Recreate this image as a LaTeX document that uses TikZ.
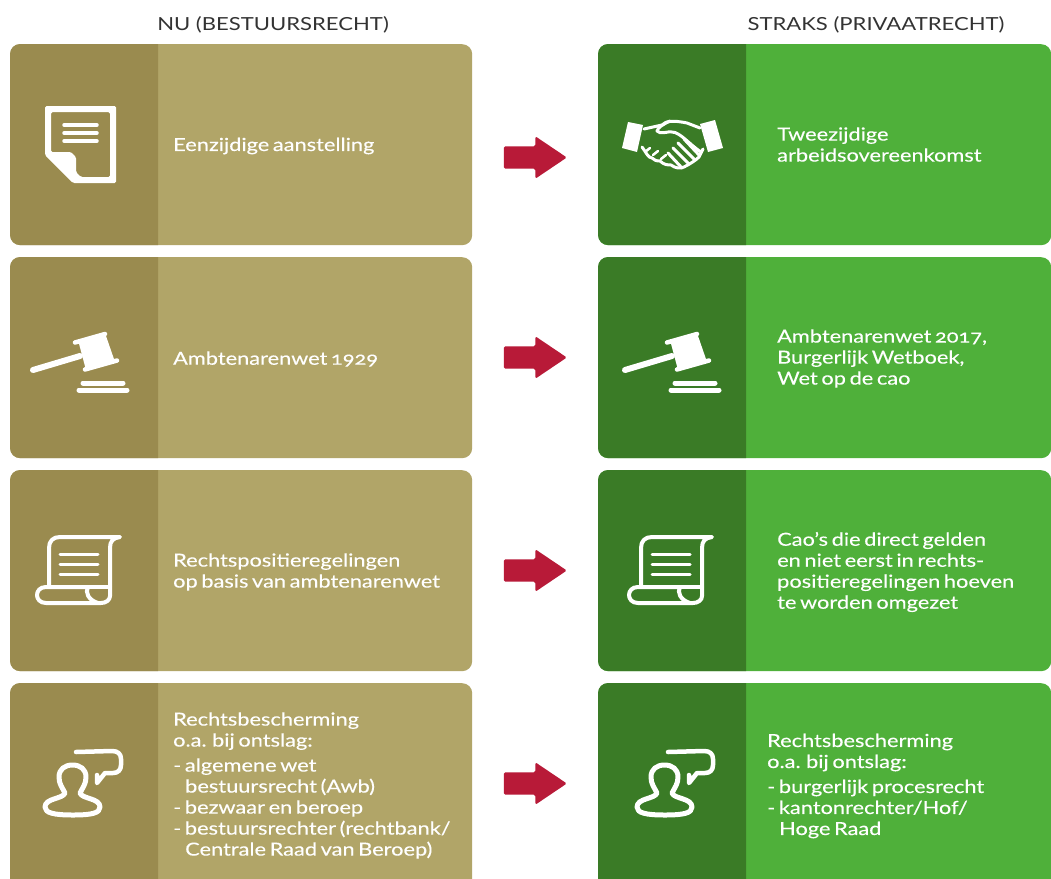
\documentclass[tikz,border=0pt]{standalone}
\usepackage{fontspec}
\setmainfont[FakeStretch=1.21,FakeBold=0.2,WordSpace=0.65,Numbers=OldStyle]{Lato}
\newfontfamily\hdrfont[FakeStretch=1.225]{Lato}
\usetikzlibrary{shapes.arrows}
\definecolor{oliveD}{HTML}{9A8B4F}
\definecolor{oliveL}{HTML}{B1A568}
\definecolor{greenD}{HTML}{3A7B26}
\definecolor{greenL}{HTML}{4FB03A}
\definecolor{redA}{HTML}{B81A38}
\definecolor{headC}{HTML}{333333}
\tikzset{
  panel/.style={rectangle,rounded corners=10pt,anchor=north west,minimum width=#1,inner sep=0pt,draw=none},
  lbl/.style={text=white,anchor=west,align=left,inner sep=0pt,font=\fontsize{18}{21}\selectfont},
  hdr/.style={text=headC,inner sep=0pt,font=\hdrfont\fontsize{18}{21}\selectfont},
  blockarrow/.style={single arrow,fill=redA,draw=none,inner sep=0pt,text height=22pt,text depth=0pt,minimum height=63pt,minimum width=42pt,single arrow head extend=10pt,single arrow tip angle=68,rounded corners=1.5pt,anchor=center},
  ico/.style={draw=white,line width=#1,line cap=round,line join=round},
  ico/.default=4pt,
  gavelicon/.pic={
    \fill[white,rounded corners=1pt] (78,340)--(105,333)--(115,362)--(86,370)--cycle;
    \draw[ico=4.5pt] (75,342.5)--(105,334);
    \draw[ico=4.5pt] (85,369.5)--(117,360.5);
    \draw[ico=6pt] (33,370)--(80,356);
    \draw[ico=5pt] (83,383)--(123,383);
    \draw[ico=5pt] (79,390)--(127,390);
  },
  scrollicon/.pic={
    \draw[ico] (49,587)--(49,548) .. controls (49,541) and (53,537) .. (60,537)--(120,537) .. controls (113,538) and (110,541) .. (110,548)--(110,596) .. controls (110,600) and (106,603) .. (101,603)--(46,603) .. controls (34,603) and (34,587) .. (46,587)--(88,587) .. controls (85,592) and (88,600) .. (98,603);
    \draw[ico] (88,587)--(110,587);
    \draw[ico=3pt] (60,554)--(98,554) (60,564)--(98,564) (60,574)--(98,574);
  },
  personicon/.pic={
    \draw[ico=5pt] (65,793) .. controls (62,787) and (59,784) .. (59,777) .. controls (59,769) and (65,765) .. (72.5,765) .. controls (80,765) and (86,769) .. (86,777) .. controls (86,784) and (83,787) .. (80,793) .. controls (82,799) and (100,798) .. (100,807) .. controls (100,813) and (92,815) .. (73,815) .. controls (54,815) and (45,813) .. (45,807) .. controls (45,798) and (63,799) .. (65,793) -- cycle;
    \draw[ico=4.5pt] (76,752)--(112,751) .. controls (118,751) and (121,754) .. (121,759)--(121,765) .. controls (121,770) and (118,773) .. (113,773)--(105,773)--(97,783)--(97,775);
  }
}
\begin{document}
\begin{tikzpicture}[x=1pt,y=-1pt]
\clip (0,0) rectangle (1051,878);
\fill[white] (0,0) rectangle (1051,878);
\node[hdr] (hl) at (273,25) {NU (BESTUURSRECHT)};
\node[hdr] (hr) at (876,25) {STRAKS (PRIVAATRECHT)};
% left panels
\node[panel=462pt,minimum height=201pt,fill=oliveL] (l1) at (10,44) {};
\node[panel=462pt,minimum height=201pt,fill=oliveL] (l2) at (10,257) {};
\node[panel=462pt,minimum height=201pt,fill=oliveL] (l3) at (10,470) {};
\node[panel=462pt,minimum height=205pt,fill=oliveL] (l4) at (10,683) {};
% right panels
\node[panel=453pt,minimum height=201pt,fill=greenL] (r1) at (598,44) {};
\node[panel=453pt,minimum height=201pt,fill=greenL] (r2) at (598,257) {};
\node[panel=453pt,minimum height=201pt,fill=greenL] (r3) at (598,470) {};
\node[panel=453pt,minimum height=205pt,fill=greenL] (r4) at (598,683) {};
% dark strips
\foreach \y/\h in {44/245,257/458,470/671,683/888}{
  \begin{scope}
    \clip (10,\y) rectangle (158,\h);
    \fill[oliveD,rounded corners=10pt] (10,\y) rectangle (190,\h);
  \end{scope}
  \begin{scope}
    \clip (598,\y) rectangle (746,\h);
    \fill[greenD,rounded corners=10pt] (598,\y) rectangle (778,\h);
  \end{scope}
}
% arrows
\foreach \n/\y in {1/157.5,2/357.5,3/570.5,4/783.5}{
  \node[blockarrow] (a\n) at (527,\y) {};
}
% texts
\node[lbl] (t1) at (173,146) {Eenzijdige aanstelling};
\node[lbl] (t2) at (173,359) {Ambtenarenwet 1929};
\node[lbl] (t3) at (173,572) {Rechtspositieregelingen\\op basis van ambtenarenwet};
\node[lbl] (t4) at (173,785.5) {Rechtsbescherming\\o.a. bij ontslag:\\[4pt]- algemene wet\\\hspace*{12pt}bestuursrecht (Awb)\\- bezwaar en beroep\\- bestuursrechter (rechtbank/\\\hspace*{12pt}Centrale Raad van Beroep)};
\node[lbl] (u1) at (777,144.5) {Tweezijdige\\arbeidsovereenkomst};
\node[lbl] (u2) at (777,358.5) {Ambtenarenwet 2017,\\Burgerlijk Wetboek,\\Wet op de cao};
\node[lbl] (u3) at (777,572) {Cao’s die direct gelden\\en niet eerst in rechts-\\positieregelingen hoeven\\te worden omgezet};
\node[lbl] (u4) at (767,786) {Rechtsbescherming\\o.a. bij ontslag:\\[4pt]- burgerlijk procesrecht\\- kantonrechter/Hof/\\\hspace*{12pt}Hoge Raad};
% document icon
\fill[white,even odd rule,rounded corners=1.5pt]
  (45,106)--(116,106)--(116,183)--(73,183)--(45,155)--cycle
  (51,112)--(110,112)--(110,177)--(81,177)--(76,172)--(76,157)--(71,152)--(51,152)--cycle;
\draw[ico=3.5pt] (64,125)--(97,125) (64,133)--(97,133) (64,141)--(97,141);
% handshake icon
\fill[white] (628,122)--(643,125)--(637,152)--(622,148)--cycle;
\fill[white] (700,124)--(715,120)--(723,148)--(708,152)--cycle;
\draw[ico=3pt] (644,129)--(662,125) .. controls (666,121) and (672,120) .. (687,123)--(700,128);
\draw[ico=3pt] (670,121) .. controls (664,124) and (658,127) .. (657,131) .. controls (660,135) and (668,131) .. (672,132) .. controls (680,132) and (690,145) .. (701,152);
\draw[ico=3pt] (642,147) .. controls (646,152) and (648,158) .. (652,158) .. controls (654,160) and (656,161) .. (660,161) .. controls (664,165) and (668,165) .. (671,165) .. controls (675,168) and (680,169) .. (684,167) .. controls (690,164) and (696,160) .. (699,157)--(703,149);
\draw[ico=2.5pt] (645,152)--(650,148) (653,155)--(658,151) (661,159)--(666,155);
\draw[ico=3pt] (668,153)--(682,168) (673,148)--(689,164) (678,143)--(695,160) (684,139)--(699,155);
% repeated icons
\foreach \dx in {0,592}{
  \pic[shift={(\dx,0)}] {gavelicon};
  \pic[shift={(\dx,0)}] {scrollicon};
  \pic[shift={(\dx,0)}] {personicon};
}
\end{tikzpicture}
\end{document}
